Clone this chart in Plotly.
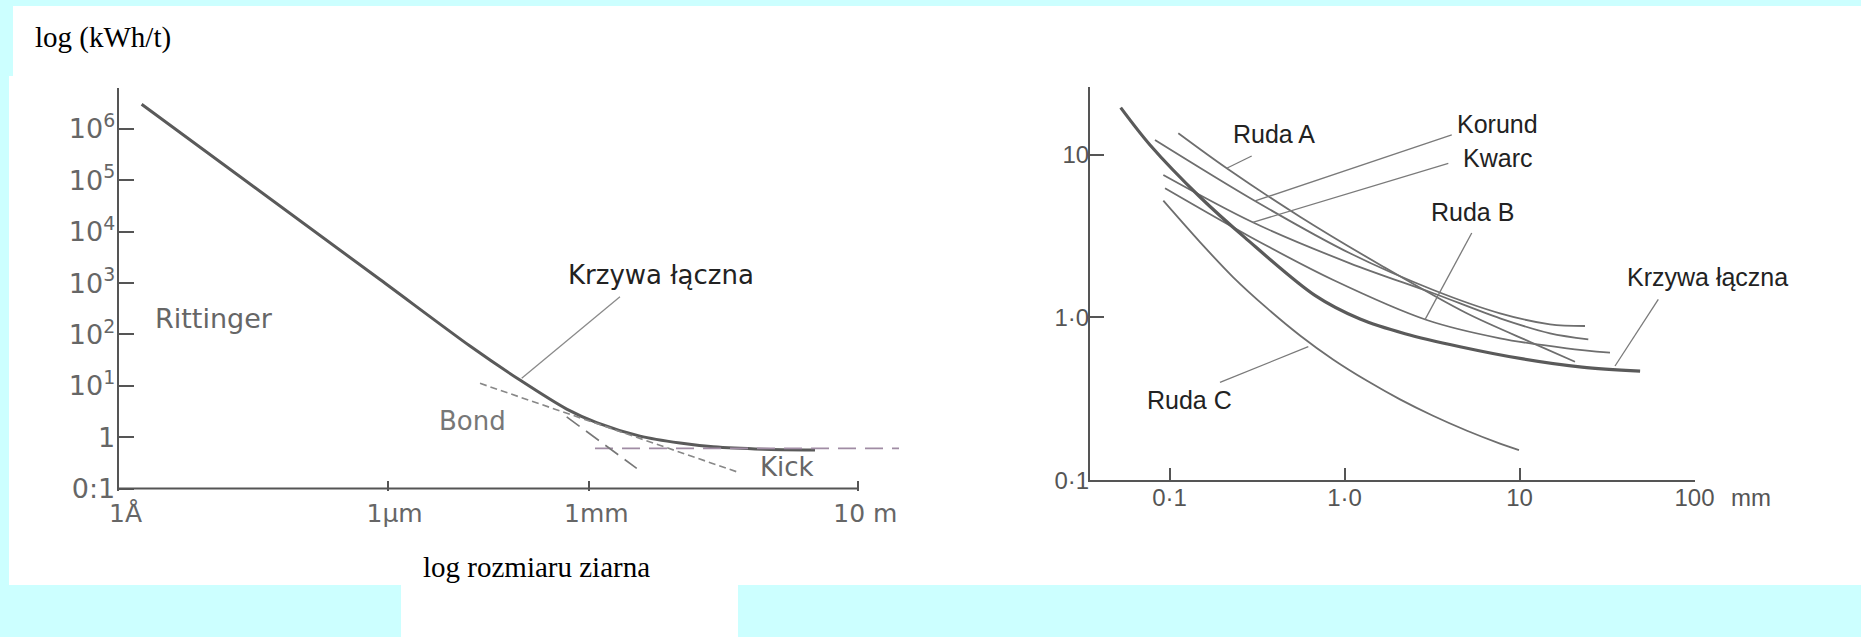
import plotly.graph_objects as go

W, H = 1861, 637

# ---------------- LEFT PANEL DATA (size in m, energy in kWh/t) ----------------
left_size_m = [2.20e-10, 7.71e-7, 1.679e-5, 9.29e-5, 4.60e-4, 1.285e-3, 5.66e-3, 0.02228, 0.0697, 0.3855, 2.265]
left_energy = [3.02e6, 1171, 59.4, 12.93, 3.525, 1.924, 1.050, 0.7674, 0.6475, 0.5812, 0.5607]

kick_x = [1.213e-3, 40.2]
kick_y = [0.605, 0.605]
ritt_ext_x = [4.60e-4, 5.06e-3]
ritt_ext_y = [2.495, 0.247]
bond_x = [2.366e-5, 0.1552]
bond_y = [11.16, 0.212]
left_leader_x = [2.851e-3, 9.86e-5]
left_leader_y = [542, 14.0]

left_tickvals_x = [1e-10, 1e-6, 1e-3, 10]
left_ticktext_x = ["1Å", "1µm", "1mm", "10 m"]
left_tickvals_y = [0.1, 1, 10, 100, 1e3, 1e4, 1e5, 1e6]
left_ticktext_y = ["0:1", "1", "10<sup>1</sup>", "10<sup>2</sup>", "10<sup>3</sup>",
                   "10<sup>4</sup>", "10<sup>5</sup>", "10<sup>6</sup>"]

# ---------------- RIGHT PANEL DATA (size in mm, energy in kWh/t) ----------------
laczna_x = [0.0526, 0.0774, 0.1493, 0.2698, 0.6776, 1.227, 2.218, 4.571, 10.47, 22.75, 48.87]
laczna_y = [19.41, 11.45, 5.49, 3.09, 1.365, 0.977, 0.794, 0.661, 0.556, 0.495, 0.468]
ruda_a_x = [0.1123, 0.2123, 0.5567, 1.666, 4.993, 11.99, 20.75]
ruda_a_y = [13.51, 8.237, 4.154, 2.049, 1.060, 0.6936, 0.5348]
korund_x = [0.0826, 0.3082, 1.075, 3.217, 7.737, 14.94, 23.67]
korund_y = [12.29, 5.188, 2.476, 1.474, 1.060, 0.9074, 0.8859]
kwarc_x = [0.0922, 0.2988, 1.075, 3.217, 7.737, 14.94, 24.72]
kwarc_y = [7.49, 3.839, 2.150, 1.407, 0.988, 0.7992, 0.7341]
ruda_b_x = [0.0943, 0.2884, 0.8630, 2.950, 7.737, 18.61, 32.89]
ruda_b_y = [6.208, 3.131, 1.697, 0.9643, 0.7445, 0.6463, 0.6073]
ruda_c_x = [0.0922, 0.1494, 0.2306, 0.3607, 0.5567, 0.8596, 1.345, 2.075, 3.204, 5.012, 7.737, 9.93]
ruda_c_y = [5.21, 2.90, 1.77, 1.14, 0.775, 0.552, 0.408, 0.314, 0.249, 0.2015, 0.168, 0.153]

# leader lines: [label end, curve end]
leader_ruda_a = ([0.2949, 0.2123], [9.80, 8.237])
leader_korund = ([4.10, 0.3082], [13.19, 5.188])
leader_kwarc = ([3.919, 0.2988], [8.842, 3.839])
leader_ruda_b = ([5.333, 2.884], [3.300, 0.9698])
leader_laczna = ([62.1, 35.13], [1.292, 0.5031])
leader_ruda_c = ([0.621, 0.1943], [0.661, 0.3995])

right_tickvals_x = [0.1, 1, 10, 100]
right_ticktext_x = ["0·1", "1·0", "10", "100"]
right_tickvals_y = [0.1, 1, 10]
right_ticktext_y = ["0·1", "1·0", "10"]


def px_x(p):
    return p / W


def px_y(p):
    return 1 - p / H


fig = go.Figure()

CURVE = "#5a5a5a"
THIN = "#6e6e6e"

# ---- left traces
fig.add_trace(go.Scatter(x=left_size_m, y=left_energy, mode="lines", line=dict(color=CURVE, width=3, shape="spline", smoothing=0.7),
                         xaxis="x", yaxis="y", hoverinfo="skip"))
fig.add_trace(go.Scatter(x=kick_x, y=kick_y, mode="lines", line=dict(color="#a08ca4", width=1.8, dash="18px,9px"),
                         xaxis="x", yaxis="y", hoverinfo="skip"))
fig.add_trace(go.Scatter(x=ritt_ext_x, y=ritt_ext_y, mode="lines", line=dict(color="#777777", width=1.6, dash="16px,8px"),
                         xaxis="x", yaxis="y", hoverinfo="skip"))
fig.add_trace(go.Scatter(x=bond_x, y=bond_y, mode="lines", line=dict(color="#888888", width=1.6, dash="7px,4px"),
                         xaxis="x", yaxis="y", hoverinfo="skip"))
fig.add_trace(go.Scatter(x=left_leader_x, y=left_leader_y, mode="lines", line=dict(color="#8a8a8a", width=1.3),
                         xaxis="x", yaxis="y", hoverinfo="skip"))

# ---- right traces
for xs, ys in [(ruda_a_x, ruda_a_y), (korund_x, korund_y), (kwarc_x, kwarc_y),
               (ruda_b_x, ruda_b_y), (ruda_c_x, ruda_c_y)]:
    fig.add_trace(go.Scatter(x=xs, y=ys, mode="lines", line=dict(color=THIN, width=1.8, shape="spline", smoothing=0.9),
                             xaxis="x2", yaxis="y2", hoverinfo="skip"))
fig.add_trace(go.Scatter(x=laczna_x, y=laczna_y, mode="lines", line=dict(color=CURVE, width=3.2, shape="spline", smoothing=0.9),
                         xaxis="x2", yaxis="y2", hoverinfo="skip"))
for lx, ly in [leader_ruda_a, leader_korund, leader_kwarc, leader_ruda_b, leader_laczna, leader_ruda_c]:
    fig.add_trace(go.Scatter(x=lx, y=ly, mode="lines", line=dict(color="#7a7a7a", width=1.3),
                             xaxis="x2", yaxis="y2", hoverinfo="skip"))

AX = "#555555"

fig.update_layout(
    template="none",
    width=W, height=H,
    margin=dict(l=0, r=0, t=0, b=0, pad=0, autoexpand=False),
    paper_bgcolor="#CCFFFF",
    plot_bgcolor="rgba(0,0,0,0)",
    showlegend=False,
    xaxis=dict(type="log", range=[-10, 1.72], domain=[px_x(118.6), px_x(906.8)], anchor="y", automargin=False,
               showline=False, showgrid=False, zeroline=False,
               ticks="inside", ticklen=10, tickwidth=2, tickcolor=AX,
               tickvals=left_tickvals_x, ticktext=left_ticktext_x, ticklabelshift=7,
               tickfont=dict(family="DejaVu Sans", size=25, color="#666666"), ticklabelstandoff=5),
    yaxis=dict(type="log", range=[-1.04, 6.8], domain=[px_y(490.6), px_y(87.85)], anchor="x", automargin=False,
               showline=True, linecolor=AX, linewidth=2, showgrid=False, zeroline=False,
               ticks="inside", ticklen=15, tickwidth=2, tickcolor=AX,
               tickvals=left_tickvals_y, ticktext=left_ticktext_y,
               tickfont=dict(family="DejaVu Sans", size=27, color="#666666"), ticklabelstandoff=-4),
    xaxis2=dict(type="log", range=[-1.4543, 2.005], domain=[px_x(1090), px_x(1695.4)], anchor="y2", automargin=False,
                showline=True, linecolor=AX, linewidth=2, showgrid=False, zeroline=False,
                ticks="inside", ticklen=12, tickwidth=2, tickcolor=AX,
                tickvals=right_tickvals_x, ticktext=right_ticktext_x,
                tickfont=dict(family="Liberation Sans", size=24, color="#555555"), ticklabelstandoff=-5),
    yaxis2=dict(type="log", range=[-1, 1.413], domain=[px_y(480.3), px_y(87.3)], anchor="x2", automargin=False,
                showline=True, linecolor=AX, linewidth=2, showgrid=False, zeroline=False,
                ticks="inside", ticklen=14, tickwidth=2, tickcolor=AX,
                tickvals=right_tickvals_y, ticktext=right_ticktext_y,
                tickfont=dict(family="Liberation Sans", size=24, color="#555555"), ticklabelstandoff=-6),
)

# background panels
shapes = [
    dict(type="rect", xref="paper", yref="paper", x0=px_x(13), x1=1, y0=px_y(76), y1=px_y(6),
         fillcolor="white", line=dict(width=0), layer="below"),
    dict(type="rect", xref="paper", yref="paper", x0=px_x(9), x1=1, y0=px_y(585), y1=px_y(76),
         fillcolor="white", line=dict(width=0), layer="below"),
    dict(type="rect", xref="paper", yref="paper", x0=px_x(401), x1=px_x(738), y0=0, y1=px_y(585),
         fillcolor="white", line=dict(width=0), layer="below"),
    # left x axis line (1 Å .. 10 m)
    dict(type="line", xref="x", yref="y", x0=1e-10, x1=10, y0=0.1, y1=0.1,
         line=dict(color=AX, width=2)),
]
fig.update_layout(shapes=shapes)

ann = []


def label(text, cx, cy, size, color, family, xanchor="center"):
    ann.append(dict(text=text, x=px_x(cx), y=px_y(cy), xref="paper", yref="paper",
                    xanchor=xanchor, yanchor="middle", showarrow=False,
                    font=dict(family=family, size=size, color=color)))


label("log (kWh/t)", 33, 37, 29, "black", "Liberation Serif", xanchor="left")
label("log rozmiaru ziarna", 421, 567, 29, "black", "Liberation Serif", xanchor="left")

label("Rittinger", 214, 319, 27, "#666666", "DejaVu Sans")
label("Bond", 472, 421, 26, "#777777", "DejaVu Sans")
label("Kick", 787, 467, 26, "#666666", "DejaVu Sans")
label("Krzywa łączna", 661, 275, 26, "#222222", "DejaVu Sans")

label("Ruda A", 1274, 134, 25, "#222222", "Liberation Sans")
label("Korund", 1497, 124, 25, "#222222", "Liberation Sans")
label("Kwarc", 1497, 158, 25, "#222222", "Liberation Sans")
label("Ruda B", 1472, 212, 25, "#222222", "Liberation Sans")
label("Krzywa łączna", 1707, 277, 25, "#222222", "Liberation Sans")
label("Ruda C", 1189, 400, 25, "#222222", "Liberation Sans")
label("mm", 1729, 497, 24, "#555555", "Liberation Sans", xanchor="left")

fig.update_layout(annotations=ann)

fig.write_html("out.html", config={"displayModeBar": False},
               post_script="document.body.style.margin='0';document.body.style.overflow='hidden';")
